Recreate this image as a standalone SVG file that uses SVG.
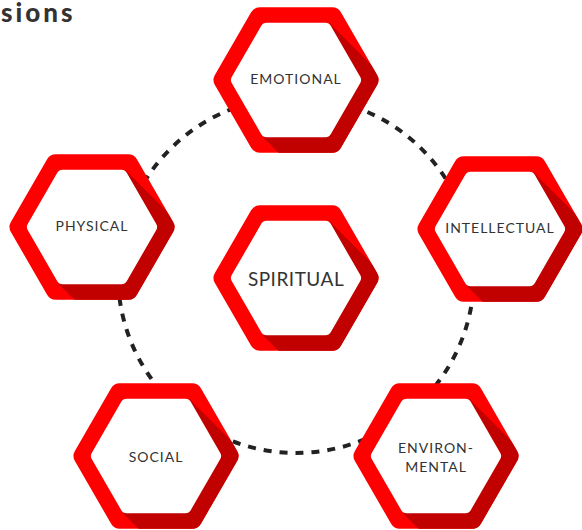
<svg xmlns="http://www.w3.org/2000/svg" width="582" height="530" viewBox="0 0 582 530">
<style>
.ring{fill:#fe0000}
.shade{fill:#c10000}
.hole{fill:#ffffff}
.lbl{font-family:Lato,"Liberation Sans",sans-serif;font-size:14px;fill:#333333;text-anchor:middle;letter-spacing:1px}
.big{font-size:19px;letter-spacing:0.5px}
.title{font-family:Lato,"Liberation Sans",sans-serif;font-weight:900;font-size:26px;fill:#333333;letter-spacing:3px}
</style>
<defs>
<path id="outer" d="M81.11,-5 L44.89,-67.75 A10 10 0 0 0 36.23,-72.75 L-36.23,-72.75 A10 10 0 0 0 -44.89,-67.75 L-81.11,-5 A10 10 0 0 0 -81.11,5 L-44.89,67.75 A10 10 0 0 0 -36.23,72.75 L36.23,72.75 A10 10 0 0 0 44.89,67.75 L81.11,5 A10 10 0 0 0 81.11,-5 Z"/>
<path id="inner" d="M64.27,-3 L34.73,-54.16 A6 6 0 0 0 29.54,-57.16 L-29.54,-57.16 A6 6 0 0 0 -34.73,-54.16 L-64.27,-3 A6 6 0 0 0 -64.27,3 L-34.73,54.16 A6 6 0 0 0 -29.54,57.16 L29.54,57.16 A6 6 0 0 0 34.73,54.16 L64.27,3 A6 6 0 0 0 64.27,-3 Z"/>
<clipPath id="clipOuter"><use href="#outer"/></clipPath>
<g id="hex">
<use href="#outer" class="ring"/>
<polygon class="shade" points="33,-57.16 153,62.84 87,177.16 -33,57.16" clip-path="url(#clipOuter)"/>
<use href="#inner" class="hole"/>
</g>
</defs>
<text class="title" x="1" y="22">sions</text>
<g id="connectors">
<circle cx="296" cy="275" r="178" fill="none" stroke="#222222" stroke-width="4" stroke-dasharray="8 8"/>
</g>
<g id="emotional" transform="translate(296,80)">
<use href="#hex"/>
<text class="lbl" x="0" y="4">EMOTIONAL</text>
</g>
<g id="physical" transform="translate(92,227)">
<use href="#hex"/>
<text class="lbl" x="0" y="4">PHYSICAL</text>
</g>
<g id="intellectual" transform="translate(500,229)">
<use href="#hex"/>
<text class="lbl" x="0" y="4">INTELLECTUAL</text>
</g>
<g id="spiritual" transform="translate(296,278)">
<use href="#hex"/>
<text class="lbl big" x="0" y="8">SPIRITUAL</text>
</g>
<g id="social" transform="translate(156,456)">
<use href="#hex"/>
<text class="lbl" x="0" y="6">SOCIAL</text>
</g>
<g id="environmental" transform="translate(436,456)">
<use href="#hex"/>
<text class="lbl" x="0" y="-3">ENVIRON-</text>
<text class="lbl" x="0" y="16">MENTAL</text>
</g>
</svg>
